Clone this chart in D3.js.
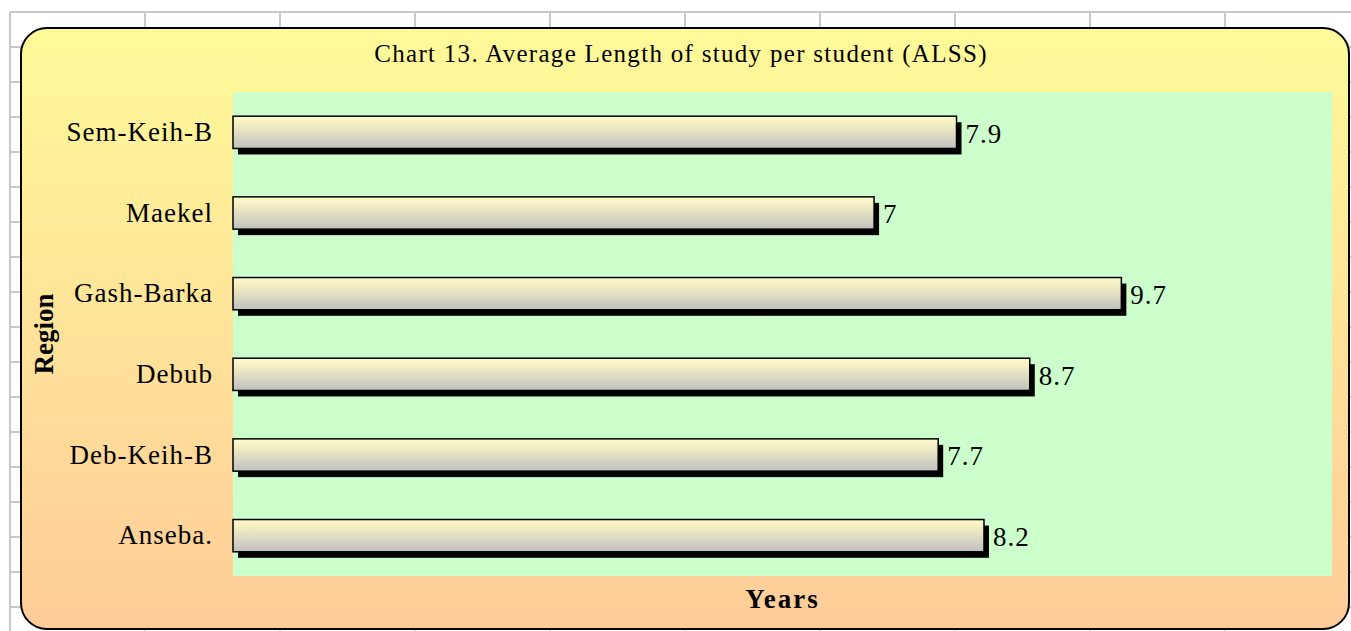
<!DOCTYPE html>
<html><head><meta charset="utf-8">
<script src="https://cdn.jsdelivr.net/npm/d3@7"></script>
<style>body{margin:0;background:#fff}svg{display:block}</style>
</head><body>
<svg id="c" width="1351" height="631"></svg>
<script>
const categories = ["Sem-Keih-B","Maekel","Gash-Barka","Debub","Deb-Keih-B","Anseba."];
const values = [7.9, 7, 9.7, 8.7, 7.7, 8.2];
const valueLabels = ["7.9","7","9.7","8.7","7.7","8.2"];
const title = "Chart 13. Average Length of study per student (ALSS)";
const xTitle = "Years";
const yTitle = "Region";

const svg = d3.select("#c");
const W = 1351, H = 631;
const font = "'Liberation Serif','Times New Roman',serif";

// spreadsheet grid background
const g0 = svg.append("g");
const colX = d3.range(10, W, 135);
colX.forEach(x => g0.append("line").attr("x1",x).attr("x2",x).attr("y1",12).attr("y2",H).attr("stroke","#c8c8c8").attr("stroke-width",2));
d3.range(12, H, 35).forEach(y => g0.append("line").attr("x1",10).attr("x2",W).attr("y1",y).attr("y2",y).attr("stroke","#c8c8c8").attr("stroke-width",2));

const defs = svg.append("defs");
const bg = defs.append("linearGradient").attr("id","bg").attr("x1",0).attr("x2",0).attr("y1",0).attr("y2",1);
bg.append("stop").attr("offset","0%").attr("stop-color","#FFFA99");
bg.append("stop").attr("offset","100%").attr("stop-color","#FFCC99");
const bar = defs.append("linearGradient").attr("id","bar").attr("x1",0).attr("x2",0).attr("y1",0).attr("y2",1);
bar.append("stop").attr("offset","0%").attr("stop-color","#FFFBCC");
bar.append("stop").attr("offset","20%").attr("stop-color","#F5F1C4");
bar.append("stop").attr("offset","100%").attr("stop-color","#C0C0C0");

// chart frame
svg.append("rect").attr("x",21).attr("y",28).attr("width",1328).attr("height",601).attr("rx",26).attr("ry",26)
  .attr("fill","url(#bg)").attr("stroke","#000").attr("stroke-width",2);

const plot = {x0:233, x1:1332, y0:92, y1:576};
svg.append("rect").attr("x",plot.x0).attr("y",plot.y0).attr("width",plot.x1-plot.x0).attr("height",plot.y1-plot.y0).attr("fill","#CCFFCC");

const x = d3.scaleLinear().domain([0,12]).range([plot.x0, plot.x1]);
const y = d3.scaleBand().domain(categories).range([plot.y0, plot.y1]).paddingInner(0.6).paddingOuter(0.3);

const rows = svg.append("g").selectAll("g").data(categories).join("g");
// shadows
rows.append("rect").attr("x",d=>x(0)+5).attr("y",d=>y(d)+6).attr("width",(d,i)=>x(values[i])-x(0)).attr("height",y.bandwidth()).attr("fill","#000");
rows.append("rect").attr("x",x(0)).attr("y",d=>y(d)).attr("width",(d,i)=>x(values[i])-x(0)).attr("height",y.bandwidth())
  .attr("fill","url(#bar)").attr("stroke","#000").attr("stroke-width",1.5);
rows.append("text").attr("x",(d,i)=>x(values[i])+9).attr("y",d=>y(d)+y.bandwidth()/2+1).attr("dy","0.35em")
  .attr("font-family",font).attr("font-size",27).attr("letter-spacing",1).text((d,i)=>valueLabels[i]);

// category axis
const yAxis = svg.append("g").attr("transform",`translate(${plot.x0},0)`).call(d3.axisLeft(y).tickSize(0).tickPadding(20));
yAxis.select(".domain").remove();
yAxis.selectAll("text").attr("font-family",font).attr("font-size",27).attr("letter-spacing",1).attr("fill","#000");

svg.append("text").attr("x",681).attr("y",62).attr("text-anchor","middle").attr("font-family",font).attr("font-size",25).attr("letter-spacing",1.3).text(title);
svg.append("text").attr("x",(plot.x0+plot.x1)/2).attr("y",608).attr("text-anchor","middle").attr("font-family",font).attr("font-size",27).attr("font-weight","bold").attr("letter-spacing",2).text(xTitle);
svg.append("text").attr("transform",`translate(53,${(plot.y0+plot.y1)/2}) rotate(-90)`).attr("text-anchor","middle").attr("font-family",font).attr("font-size",27).attr("font-weight","bold").text(yTitle);
</script>
</body></html>
